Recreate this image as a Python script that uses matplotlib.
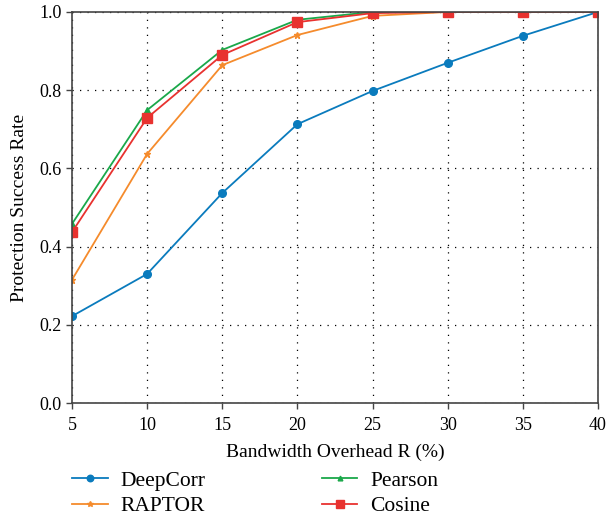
import matplotlib
matplotlib.use('Agg')
from matplotlib import pyplot as plt

# bandwidth overhead (%) and success rates
overhead = [5, 10, 15, 20, 25, 30, 35, 40]
deepcorr = [0.222, 0.330, 0.537, 0.713, 0.798, 0.870, 0.939, 1.0]
raptor = [0.315, 0.637, 0.864, 0.941, 0.990, 1.0, 1.0, 1.0]
pearson = [0.458, 0.749, 0.903, 0.980, 1.0, 1.0, 1.0, 1.0]
cosine = [0.437, 0.729, 0.890, 0.974, 0.997, 1.0, 1.0, 1.0]

plt.rcParams['font.family'] = ['Liberation Serif', 'DejaVu Serif']

fig = plt.figure(figsize=(6.07, 5.2), dpi=100)
ax = fig.add_axes([0.1186, 0.225, 0.8666, 0.752])

ax.plot(overhead, deepcorr, color='#0a7bbd', marker='o', markersize=5.5, lw=1.3, label='DeepCorr')
ax.plot(overhead, raptor, color='#f58b2c', marker='*', markersize=5, lw=1.3, label='RAPTOR')
ax.plot(overhead, pearson, color='#1aa84a', marker='^', markersize=4, lw=1.3, label='Pearson')
ax.plot(overhead, cosine, color='#e8322f', marker='s', markersize=7, lw=1.3, label='Cosine')

ax.set_xlim(5, 40)
ax.set_ylim(0, 1.0)
ax.set_xticks(overhead)
ax.set_yticks([0, 0.2, 0.4, 0.6, 0.8, 1.0])
ax.set_yticklabels(['0.0', '0.2', '0.4', '0.6', '0.8', '1.0'])
ax.tick_params(labelsize=13, direction='out', length=4, width=1, color='#444444')
ax.tick_params(axis='x', pad=6)
ax.grid(True, color='black', linestyle=(0, (1, 5)), linewidth=0.9)
for s in ax.spines.values():
    s.set_color('#444444')
    s.set_linewidth(1.2)

ax.set_xlabel('Bandwidth Overhead R (%)', fontsize=14, labelpad=7)
ax.set_ylabel('Protection Success Rate', fontsize=14, labelpad=8)

# legend below the axes, two columns
handles, labels = ax.get_legend_handles_labels()
fig.legend(handles, labels,
           loc='lower left', bbox_to_anchor=(0.087, -0.03), ncol=2, frameon=False,
           fontsize=15.5, columnspacing=5.4, handlelength=1.65, handletextpad=0.6,
           labelspacing=0.25, markerscale=0.85)

fig.savefig('out.png', dpi=100)
